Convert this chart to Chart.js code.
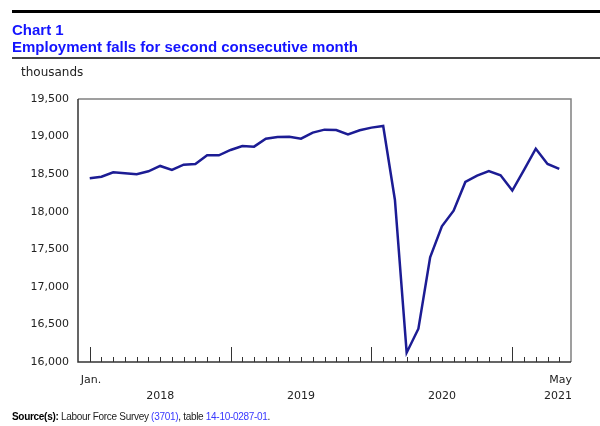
<!DOCTYPE html>
<html>
<head>
<meta charset="utf-8">
<script src="https://cdn.jsdelivr.net/npm/chart.js@4"></script>
<style>
  body { margin: 0; background: #fff; }
  #wrap { position: relative; width: 600px; height: 426px; overflow: hidden; }
  #topRule { position: absolute; left: 12px; right: 0; top: 10px; height: 3px; background: #000; }
  #title { position: absolute; left: 12px; top: 21px; font: bold 15px "Liberation Sans", Arial, sans-serif; color: #1414ff; line-height: 17px; }
  #subRule { position: absolute; left: 12px; right: 0; top: 57px; height: 2px; background: #444; }
  #unit { position: absolute; left: 21px; top: 65px; font: 12px "DejaVu Sans", Verdana, sans-serif; color: #222; }
  #source { position: absolute; left: 12px; top: 411px; font: 10px "Liberation Sans", Arial, sans-serif; letter-spacing: -0.3px; color: #222; }
  #source b { color: #000; }
  #source span { color: #3838ff; }
  canvas { position: absolute; left: 0; top: 0; }
</style>
</head>
<body>
<div id="wrap">
  <canvas id="chart" width="600" height="426"></canvas>
  <div id="topRule"></div>
  <div id="title">Chart 1<br>Employment falls for second consecutive month</div>
  <div id="subRule"></div>
  <div id="unit">thousands</div>
  <div id="source"><b>Source(s):</b> Labour Force Survey <span>(3701)</span>, table <span>14-10-0287-01</span>.</div>
</div>
<script>
// Data: employment, thousands, Jan 2018 - May 2021
const months = [
  'Jan 2018','Feb 2018','Mar 2018','Apr 2018','May 2018','Jun 2018','Jul 2018','Aug 2018','Sep 2018','Oct 2018','Nov 2018','Dec 2018',
  'Jan 2019','Feb 2019','Mar 2019','Apr 2019','May 2019','Jun 2019','Jul 2019','Aug 2019','Sep 2019','Oct 2019','Nov 2019','Dec 2019',
  'Jan 2020','Feb 2020','Mar 2020','Apr 2020','May 2020','Jun 2020','Jul 2020','Aug 2020','Sep 2020','Oct 2020','Nov 2020','Dec 2020',
  'Jan 2021','Feb 2021','Mar 2021','Apr 2021','May 2021'
];
const employment = [
  18445, 18466, 18525, 18511, 18498, 18538, 18609, 18556, 18626, 18635, 18751, 18751,
  18822, 18875, 18866, 18972, 18995, 18999, 18972, 19052, 19092, 19086, 19030, 19084,
  19119, 19141, 18156, 16124, 16443, 17393, 17805, 18014, 18396, 18480, 18542, 18484,
  18281, 18556, 18839, 18635, 18569
];
const yearLabels = ['2018', '2019', '2020'];
const yearLabelPos = [6, 18, 30];      // month index under which each year is centred
const yearStarts = [0, 12, 24, 36];    // long ticks
const firstLabel = 'Jan.';
const lastLabel = 'May';
const lastYear = '2021';

const points = employment.map((v, i) => ({ x: i, y: v }));

// Frame, month ticks and x labels
const axisPlugin = {
  id: 'axisPlugin',
  afterDraw(chart) {
    const ctx = chart.ctx;
    const a = chart.chartArea;
    const xs = chart.scales.x;
    ctx.save();
    // top and right border
    ctx.strokeStyle = '#808080';
    ctx.lineWidth = 1.5;
    ctx.beginPath();
    ctx.moveTo(a.left, a.top);
    ctx.lineTo(a.right, a.top);
    ctx.lineTo(a.right, a.bottom);
    ctx.stroke();
    // left and bottom axis
    ctx.strokeStyle = '#333';
    ctx.beginPath();
    ctx.moveTo(a.left, a.top);
    ctx.lineTo(a.left, a.bottom);
    ctx.lineTo(a.right, a.bottom);
    ctx.stroke();
    // month ticks
    ctx.lineWidth = 1;
    ctx.strokeStyle = '#333';
    months.forEach((m, i) => {
      const px = Math.round(xs.getPixelForValue(i)) + 0.5;
      const len = yearStarts.includes(i) ? 15 : 5;
      ctx.beginPath();
      ctx.moveTo(px, a.bottom);
      ctx.lineTo(px, a.bottom - len);
      ctx.stroke();
    });
    // labels
    ctx.fillStyle = '#222';
    ctx.font = '11px "DejaVu Sans", Verdana, sans-serif';
    ctx.textBaseline = 'middle';
    ctx.textAlign = 'left';
    ctx.fillText(firstLabel, xs.getPixelForValue(0) - 9, a.bottom + 18);
    ctx.textAlign = 'right';
    ctx.fillText(lastLabel, a.right + 1, a.bottom + 18);
    ctx.fillText(lastYear, a.right + 1, a.bottom + 34);
    ctx.textAlign = 'center';
    yearLabels.forEach((y, k) => {
      ctx.fillText(y, xs.getPixelForValue(yearLabelPos[k]), a.bottom + 34);
    });
    ctx.restore();
  }
};

new Chart(document.getElementById('chart').getContext('2d'), {
  type: 'line',
  data: {
    datasets: [{
      label: 'Employment',
      data: points,
      borderColor: '#1c1c94',
      borderWidth: 2.5,
      pointRadius: 0,
      tension: 0,
      fill: false
    }]
  },
  options: {
    responsive: false,
    animation: false,
    devicePixelRatio: 1,
    layout: { padding: { top: 99, bottom: 64, left: 0, right: 29 } },
    plugins: { legend: { display: false }, tooltip: { enabled: false } },
    scales: {
      x: {
        type: 'linear',
        min: -1,
        max: 41,
        display: false
      },
      y: {
        min: 16000,
        max: 19500,
        ticks: {
          stepSize: 500,
          padding: 9,
          color: '#222',
          font: { family: '"DejaVu Sans", Verdana, sans-serif', size: 11 }
        },
        grid: { display: false, drawTicks: false },
        border: { display: false },
        afterFit(scale) { scale.width = 78; }
      }
    }
  },
  plugins: [axisPlugin]
});
</script>
</body>
</html>
